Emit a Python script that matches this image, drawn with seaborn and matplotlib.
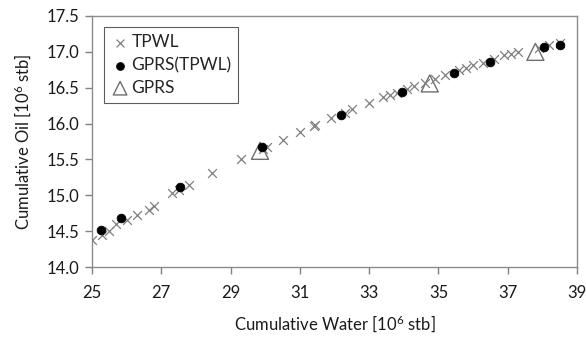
import numpy as np
import pandas as pd
import seaborn as sns
import matplotlib
matplotlib.use("Agg")
import matplotlib.pyplot as plt

tpwl_water = [25.0, 25.3, 25.5, 25.7, 26.0, 26.3, 26.65, 26.8, 27.3, 27.5, 27.8, 28.45,
              29.3, 29.95, 30.05, 30.5, 31.0, 31.4, 31.45, 31.9, 32.3, 32.5, 33.0, 33.4,
              33.6, 33.8, 34.1, 34.3, 34.6, 34.9, 35.2, 35.6, 35.8, 36.0, 36.3, 36.6,
              36.9, 37.1, 37.3, 37.9, 38.2, 38.5]
tpwl_oil = [14.38, 14.45, 14.5, 14.6, 14.65, 14.73, 14.8, 14.85, 15.03, 15.07, 15.15, 15.31,
            15.5, 15.65, 15.68, 15.77, 15.88, 15.97, 15.98, 16.08, 16.15, 16.2, 16.28, 16.37,
            16.4, 16.43, 16.48, 16.52, 16.56, 16.62, 16.68, 16.75, 16.78, 16.82, 16.85, 16.9,
            16.95, 16.97, 17.0, 17.06, 17.1, 17.12]

gprs_tpwl_water = [25.25, 25.85, 27.55, 29.9, 32.2, 33.95, 35.45, 36.5, 38.05, 38.5]
gprs_tpwl_oil = [14.52, 14.68, 15.11, 15.67, 16.12, 16.44, 16.71, 16.86, 17.07, 17.1]

gprs_water = [29.85, 34.75, 37.8]
gprs_oil = [15.62, 16.56, 17.0]

x_ticks = [25, 27, 29, 31, 33, 35, 37, 39]
y_ticks = [14.0, 14.5, 15.0, 15.5, 16.0, 16.5, 17.0, 17.5]

sns.set_theme(style="white")
plt.rcParams['font.family'] = ['Lato', 'DejaVu Sans']
plt.rcParams['mathtext.fontset'] = 'custom'
plt.rcParams['mathtext.rm'] = 'Lato'
plt.rcParams['mathtext.it'] = 'Lato'

fig = plt.figure(figsize=(5.86, 3.38), dpi=100)
ax = fig.add_axes([0.157, 0.21, 0.8276, 0.7427])

df1 = pd.DataFrame({"w": tpwl_water, "o": tpwl_oil})
df2 = pd.DataFrame({"w": gprs_tpwl_water, "o": gprs_tpwl_oil})
df3 = pd.DataFrame({"w": gprs_water, "o": gprs_oil})

sns.scatterplot(data=df1, x="w", y="o", marker="x", s=40, color="#808080",
                linewidth=0.9, ax=ax, label="TPWL", zorder=3)
sns.scatterplot(data=df2, x="w", y="o", marker="o", s=40, color="black",
                edgecolor="black", ax=ax, label="GPRS(TPWL)", zorder=4)
sns.scatterplot(data=df3, x="w", y="o", marker="^", s=150, facecolor="none",
                edgecolor="#6e6e6e", linewidth=1.0, ax=ax, label="GPRS", zorder=2)

ax.set_xlim(25, 39)
ax.set_ylim(14.0, 17.5)
ax.set_xticks(x_ticks)
ax.set_yticks(y_ticks)
ax.set_xticklabels([str(t) for t in x_ticks])
ax.set_yticklabels([f"{t:.1f}" for t in y_ticks])
ax.tick_params(axis='both', which='major', labelsize=12, direction='out', length=5,
               width=1, color='#808080', bottom=True, left=True, labelcolor='#1a1a1a')
ax.tick_params(axis='x', pad=8)
ax.tick_params(axis='y', pad=4)

for side in ['left', 'bottom', 'top', 'right']:
    ax.spines[side].set_color('#8c8c8c')
    ax.spines[side].set_linewidth(1.0)

ax.set_xlabel(r"Cumulative Water [10$^{6}$ stb]", fontsize=12, color='#1a1a1a', labelpad=9)
ax.set_ylabel(r"Cumulative Oil [10$^{6}$ stb]", fontsize=12, color='#1a1a1a', labelpad=10)

leg = ax.legend(loc='upper left', bbox_to_anchor=(0.015, 0.975), frameon=True, fancybox=False,
                edgecolor='#333333', fontsize=12.5, handletextpad=0.15, borderpad=0.4,
                labelspacing=0.38, handlelength=1.0, borderaxespad=0.3, markerscale=0.9)
leg.get_frame().set_linewidth(0.8)
handles = leg.legend_handles
handles[2].set_sizes([95])

fig.savefig("out.png", dpi=100)
